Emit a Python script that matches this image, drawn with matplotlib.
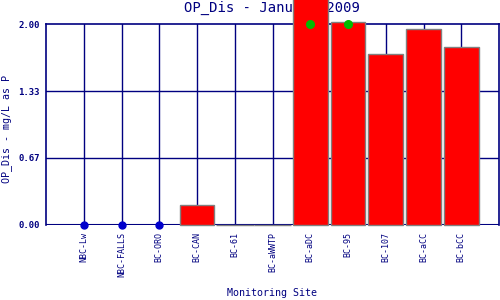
import matplotlib
matplotlib.use("Agg")
import matplotlib.pyplot as plt
import numpy as np

sites = ["NBC-Lw", "NBC-FALLS", "BC-ORO", "BC-CAN", "BC-61", "BC-aWWTP",
         "BC-aDC", "BC-95", "BC-107", "BC-aCC", "BC-bCC"]
values = [np.nan, np.nan, np.nan, 0.20, 0.0, 0.0, 2.50, 2.02, 1.70, 1.95, 1.77]
nondetect = [0.0, 0.0, 0.0, np.nan, np.nan, np.nan, np.nan, np.nan, np.nan, np.nan, np.nan]
exceed = [np.nan, np.nan, np.nan, np.nan, np.nan, np.nan, 2.00, 2.00, np.nan, np.nan, np.nan]
yticks = [0.0, 0.67, 1.33, 2.0]
ytick_labels = ["0.00", "0.67", "1.33", "2.00"]

navy = "#000080"
mono = "DejaVu Sans Mono"

fig = plt.figure(figsize=(5, 3), dpi=100)
ax = fig.add_axes([0.092, 0.25, 0.906, 0.67])
ax.patch.set_alpha(0)
x = np.arange(len(sites))

ax.set_xlim(-1.0, len(sites))
ax.set_ylim(0, 2.0)

for xi in x:
    ax.axvline(xi, color=navy, lw=1.0, zorder=1)
for yv in yticks[1:3]:
    ax.axhline(yv, color=navy, lw=1.0, zorder=1)
ax.axhline(0, color=navy, lw=1.5, zorder=1)

for xi, v in zip(x, values):
    if np.isnan(v):
        continue
    w = 1.0 if v == 0 else 0.92
    ax.bar(xi, v, width=w, color="#ff0000", edgecolor="#808080", lw=1.0,
           zorder=3, clip_on=False)

ax.plot(x, nondetect, "o", color="#0000cc", ms=5, zorder=4, clip_on=False)
ax.plot(x, exceed, "o", color="#00bb00", ms=5.5, zorder=5, clip_on=False)

for s in ax.spines.values():
    s.set_color(navy)
    s.set_linewidth(1.2)
ax.spines["bottom"].set_visible(False)

ax.set_yticks(yticks)
ax.set_yticklabels(ytick_labels, family=mono, fontsize=6.5, color=navy, fontweight="bold")
ax.set_xticks(x)
ax.set_xticklabels(sites, rotation=90, family=mono, fontsize=6, color=navy)
ax.tick_params(axis="y", length=0, pad=4.5)
ax.tick_params(axis="x", length=0, pad=5)

fig.text(0.014, 0.57, "OP_Dis - mg/L as P", family=mono, fontsize=7.2, color=navy,
         rotation=90, ha="center", va="center")
fig.text(0.544, 0.023, "Monitoring Site", family=mono, fontsize=7.2, color=navy,
         ha="center", va="center")
fig.text(0.544, 0.972, "OP_Dis - January 2009", family=mono, fontsize=10, color=navy,
         ha="center", va="center", zorder=-1)

fig.savefig("out.png", dpi=100)
